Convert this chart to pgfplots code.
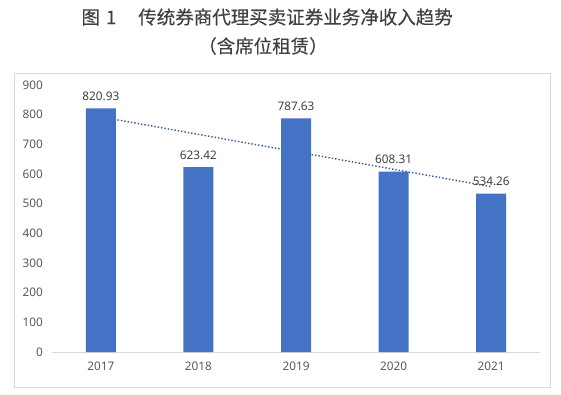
\documentclass[border=0pt]{standalone}
\usepackage{pgfplots}
\pgfplotsset{compat=1.18}
\usepackage{fontspec}
\setmainfont{Noto Sans}
\newfontfamily\cjk{Noto Sans CJK SC}[FakeBold=0.3]
\definecolor{barblue}{HTML}{4472C4}
\definecolor{trend}{HTML}{2F5597}
\definecolor{gridc}{HTML}{D9D9D9}
\definecolor{txt}{HTML}{595959}
\definecolor{ttl}{HTML}{404040}
\begin{document}
\begin{tikzpicture}[x=1pt,y=1pt]
\path (0,0) rectangle (561,-394);
\draw[gridc, line width=1pt] (14,-73) rectangle (550,-387);
\node[text=ttl, font=\cjk\fontsize{18.5}{20}\selectfont, anchor=west] at (78,-17) {图\hspace{6pt}1\hspace{22pt}传统券商代理买卖证券业务净收入趋势};
\node[text=ttl, font=\cjk\fontsize{18.5}{20}\selectfont] at (263,-46) {（含席位租赁）};
\begin{axis}[
  at={(52pt,-352pt)}, anchor=south west,
  scale only axis, width=488pt, height=267pt,
  xmin=-0.5, xmax=4.5, ymin=0, ymax=900,
  xtick={0,1,2,3,4}, xticklabels={2017,2018,2019,2020,2021},
  ytick={0,100,...,900},
  axis x line*=bottom, axis y line=none,
  x axis line style={gridc, line width=1pt, -},
  ymajorgrids, grid style={gridc, line width=0.8pt},
  major tick length=0pt,
  tick label style={text=txt, font=\fontsize{11.8}{12}\selectfont},
  /pgf/number format/assume math mode=true,
  xticklabel style={yshift=-6pt},
  clip=false,
]
\pgfplotsextra{
  \foreach \v in {0,100,...,900}{
    \node[anchor=east, text=txt, font=\fontsize{11.8}{12}\selectfont, inner sep=0pt] at (axis cs:-0.5,\v) [xshift=-9pt] {\v};
  }
}
\addplot[trend, line width=1.4pt, dotted, forget plot] coordinates {(0,792.6) (4,557.2)};
\addplot[ybar, bar width=30pt, fill=barblue, draw=none,
  nodes near coords, every node near coord/.append style={text=ttl, font=\fontsize{11.8}{12}\selectfont, yshift=4pt, /pgf/number format/fixed, /pgf/number format/precision=2, /pgf/number format/fixed zerofill}]
  coordinates {(0,820.93) (1,623.42) (2,787.63) (3,608.31) (4,534.26)};
\end{axis}
\end{tikzpicture}
\end{document}
